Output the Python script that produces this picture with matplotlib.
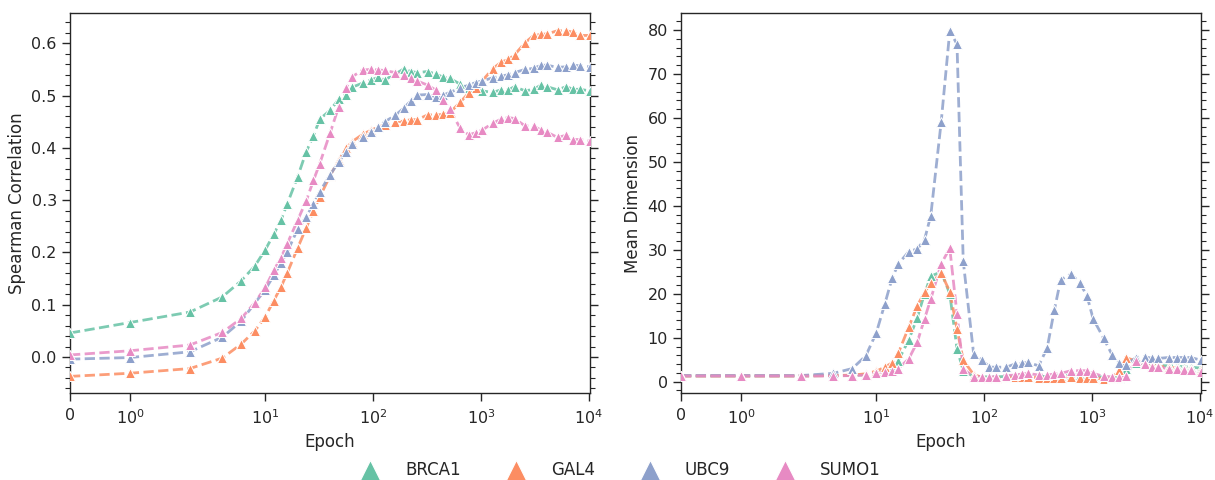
import matplotlib
matplotlib.use("Agg")
import matplotlib.pyplot as plt
from matplotlib.lines import Line2D
from matplotlib.ticker import AutoMinorLocator, NullLocator, FixedLocator

epochs = [0, 1, 2, 4, 6, 8, 10, 12, 14, 16, 20, 24, 28, 32, 40, 48, 56, 64, 80, 96,
          112, 128, 160, 192, 224, 256, 320, 384, 448, 512, 640, 768, 896, 1024,
          1280, 1536, 1792, 2048, 2560, 3072, 3584, 4096, 5120, 6144, 7168, 8192, 10240]

proteins = ["BRCA1", "GAL4", "UBC9", "SUMO1"]
colors = ["#66c2a5", "#fc8d62", "#8da0cb", "#e78ac3"]

spearman_brca1 = [.046, .066, .086, .115, .146, .174, .205, .235, .262, .293, .345, .393, .423, .455,
                  .472, .493, .502, .516, .524, .530, .535, .530, .541, .551, .546, .544, .546, .541,
                  .535, .533, .522, .514, .512, .509, .506, .511, .511, .517, .509, .512, .520, .517,
                  .511, .517, .512, .512, .509]
spearman_gal4 = [-.037, -.031, -.022, -.002, .025, .050, .077, .108, .134, .161, .209, .247, .280, .306,
                 .347, .377, .399, .412, .426, .434, .440, .444, .450, .451, .454, .454, .463, .463,
                 .464, .467, .487, .505, .515, .528, .551, .564, .569, .578, .601, .615, .617, .618,
                 .624, .624, .621, .615, .615]
spearman_ubc9 = [-.004, -.001, .010, .038, .069, .103, .129, .156, .180, .201, .245, .268, .293, .316,
                 .349, .373, .393, .407, .421, .430, .439, .450, .462, .476, .490, .501, .502, .497,
                 .501, .506, .514, .520, .525, .528, .534, .537, .540, .544, .550, .552, .558, .558,
                 .554, .555, .558, .557, .555]
spearman_sumo1 = [.004, .012, .023, .047, .074, .104, .133, .166, .190, .217, .262, .299, .338, .370,
                  .429, .479, .514, .536, .549, .550, .549, .548, .544, .539, .534, .528, .520, .510,
                  .492, .474, .438, .425, .429, .434, .447, .455, .458, .456, .442, .442, .434, .430,
                  .420, .424, .416, .416, .413]

dim_brca1 = [1.3, 1.3, 1.3, 1.4, 1.4, 1.6, 1.9, 2.4, 3.2, 4.8, 9.5, 14.6, 20.0, 24.0, 25.0, 20.0,
             7.5, 2.5, 1.2, 1.1, 1.1, 1.1, 1.2, 1.2, 1.3, 1.3, 1.2, 1.2, 1.3, 1.4, 1.5, 1.5, 1.4,
             1.3, 1.0, 0.9, 0.9, 3.0, 4.3, 4.0, 3.8, 3.7, 3.6, 3.5, 3.4, 3.3, 3.1]
dim_gal4 = [1.3, 1.3, 1.3, 1.4, 1.5, 1.8, 2.4, 3.3, 4.3, 6.5, 12.4, 17.3, 20.3, 22.5, 24.7, 20.5,
            12.0, 4.9, 1.6, 1.0, 0.9, 0.9, 1.0, 1.0, 1.1, 1.1, 0.9, 0.8, 0.8, 0.9, 1.0, 0.9, 0.9,
            0.8, 0.7, 0.8, 2.7, 5.5, 4.7, 4.2, 3.8, 3.5, 3.3, 3.1, 2.9, 2.8, 2.6]
dim_ubc9 = [1.4, 1.4, 1.4, 1.9, 3.0, 5.9, 11.1, 17.7, 23.5, 26.8, 29.6, 30.2, 32.3, 37.8, 59.2, 79.8,
            76.8, 27.4, 6.2, 4.9, 3.3, 3.3, 3.3, 4.0, 4.2, 4.4, 3.6, 7.7, 16.4, 23.2, 24.5, 22.5,
            19.6, 14.3, 9.9, 6.1, 4.3, 3.8, 5.5, 5.7, 5.3, 5.3, 5.5, 5.5, 5.5, 5.5, 4.9]
dim_sumo1 = [1.3, 1.3, 1.3, 1.3, 1.4, 1.5, 2.0, 2.1, 2.5, 3.0, 5.2, 9.0, 14.3, 18.8, 26.8, 30.4,
             15.4, 2.9, 1.1, 1.1, 1.1, 1.1, 1.4, 1.5, 1.75, 1.9, 1.5, 1.5, 1.75, 1.9, 2.5, 2.5, 2.5,
             1.9, 1.2, 1.1, 1.1, 1.4, 4.6, 4.0, 3.4, 3.4, 2.9, 2.9, 2.7, 2.7, 2.3]

spearman = [spearman_brca1, spearman_gal4, spearman_ubc9, spearman_sumo1]
dims = [dim_brca1, dim_gal4, dim_ubc9, dim_sumo1]

xticks = [0, 1, 10, 100, 1000, 10000]
xticklabels = ["0", r"$10^0$", r"$10^1$", r"$10^2$", r"$10^3$", r"$10^4$"]

plt.rcParams["font.family"] = ["DejaVu Sans"]
text_color = "#262626"

fig = plt.figure(figsize=(12.15, 4.8), dpi=100)
ax1 = fig.add_axes([0.0576, 0.181, 0.428, 0.792])
ax2 = fig.add_axes([0.5605, 0.181, 0.428, 0.792])

for ax, data, ylabel, ylim in [(ax1, spearman, "Spearman Correlation", (-0.069, 0.658)),
                               (ax2, dims, "Mean Dimension", (-2.6, 83.9))]:
    for vals, c in zip(data, colors):
        ax.plot(epochs, vals, ls="--", lw=2, color=c, alpha=0.85, zorder=2)
        ax.plot(epochs, vals, ls="none", marker="^", ms=7, color=c,
                mec="white", mew=0.7, zorder=3)
    ax.set_xscale("symlog", linthresh=2, linscale=1)
    ax.set_xlim(0, 10240)
    ax.xaxis.set_major_locator(FixedLocator(xticks))
    ax.set_xticklabels(xticklabels)
    ax.xaxis.set_minor_locator(NullLocator())
    ax.set_ylim(*ylim)
    ax.yaxis.set_minor_locator(AutoMinorLocator(5))
    ax.tick_params(axis="y", which="both", left=True, right=True, direction="out",
                   colors=text_color, labelsize=11.5)
    ax.tick_params(axis="y", which="major", length=6, width=1.0)
    ax.tick_params(axis="y", which="minor", length=3.5, width=0.8)
    ax.tick_params(axis="x", which="major", length=6, width=1.0, colors=text_color,
                   labelsize=11.5, pad=5)
    ax.set_xlabel("Epoch", fontsize=12, color=text_color)
    ax.set_ylabel(ylabel, fontsize=12, color=text_color)
    for s in ax.spines.values():
        s.set_color(text_color)
        s.set_linewidth(1.0)

handles = [Line2D([], [], ls="none", marker="^", ms=14, color=c, mec="white", mew=0.7)
           for c in colors]
fig.legend(handles, proteins, loc="lower center", bbox_to_anchor=(0.508, -0.03), ncol=4,
           frameon=False, fontsize=12, columnspacing=2.3, handletextpad=1.1,
           labelcolor=text_color)

fig.savefig("out.png", dpi=100)
